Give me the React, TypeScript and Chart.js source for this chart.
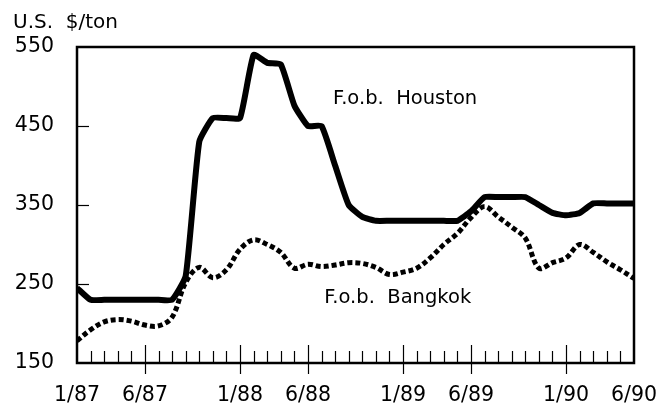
import { useEffect, useRef } from "react";
import { Chart, registerables } from "chart.js";

Chart.register(...registerables);

// Months from 1/87 (index 0) to 6/90 (index 41)
const monthIndex = Array.from({ length: 42 }, (_, i) => i);
const tickLabels: Record<number, string> = {
  0: "1/87",
  5: "6/87",
  12: "1/88",
  17: "6/88",
  24: "1/89",
  29: "6/89",
  36: "1/90",
  41: "6/90",
};
const yTickValues = [150, 250, 350, 450, 550];

const houston = [
  245, 230, 230, 230, 230, 230, 230, 230, 260, 430,
  460, 460, 460, 540, 530, 528, 476, 450, 450, 400,
  350, 335, 330, 330, 330, 330, 330, 330, 330, 342,
  360, 360, 360, 360, 350, 340, 337, 340, 352, 352,
  352, 352,
];
const bangkok = [
  178, 192, 202, 205, 203, 198, 197, 208, 252, 271,
  258, 268, 294, 306, 300, 290, 270, 275, 272, 274,
  277, 276, 271, 262, 265, 270, 283, 300, 314, 334,
  348, 335, 322, 308, 270, 277, 283, 300, 290, 278,
  268, 257,
];

const FONT = "'DejaVu Sans', 'Liberation Sans', Arial, sans-serif";

const framePlugin = {
  id: "frame",
  afterDatasetsDraw(chart: any) {
    const { ctx, chartArea: a, scales } = chart;
    const x = scales.x;
    const y = scales.y;
    ctx.save();
    ctx.strokeStyle = "#000";
    ctx.lineWidth = 2.5;
    ctx.strokeRect(a.left, a.top, a.right - a.left, a.bottom - a.top);
    ctx.lineWidth = 1.2;
    // y ticks inward
    for (const v of [250, 350, 450]) {
      const py = Math.round(y.getPixelForValue(v)) + 0.5;
      ctx.beginPath();
      ctx.moveTo(a.left, py);
      ctx.lineTo(a.left + 12, py);
      ctx.stroke();
    }
    // x ticks
    for (const m of monthIndex) {
      if (m === 0 || m === 41) continue;
      const px = Math.round(x.getPixelForValue(m)) + 0.5;
      ctx.beginPath();
      if (tickLabels[m] !== undefined) {
        ctx.moveTo(px, a.bottom - 18);
        ctx.lineTo(px, a.bottom + 11);
      } else {
        ctx.moveTo(px, a.bottom - 12);
        ctx.lineTo(px, a.bottom);
      }
      ctx.stroke();
    }
    // texts
    ctx.fillStyle = "#000";
    ctx.textBaseline = "alphabetic";
    ctx.textAlign = "left";
    ctx.font = `20px ${FONT}`;
    ctx.fillText("U.S.  $/ton", 13, 28);
    ctx.font = `19.5px ${FONT}`;
    ctx.fillText("F.o.b.  Houston", x.getPixelForValue(18.85), y.getPixelForValue(478));
    ctx.fillText("F.o.b.  Bangkok", x.getPixelForValue(18.2), y.getPixelForValue(226));
    ctx.restore();
  },
};

export default function App() {
  const ref = useRef<HTMLCanvasElement>(null);
  useEffect(() => {
    document.body.style.margin = "0";
    const chart = new Chart(ref.current!, {
      type: "line",
      data: {
        labels: monthIndex,
        datasets: [
          {
            label: "F.o.b. Houston",
            data: houston.map((v, i) => ({ x: monthIndex[i], y: v })),
            borderColor: "#000",
            borderWidth: 6,
            pointRadius: 0,
            tension: 0.15,
            borderJoinStyle: "round",
            borderCapStyle: "butt",
          },
          {
            label: "F.o.b. Bangkok",
            data: bangkok.map((v, i) => ({ x: monthIndex[i], y: v })),
            borderColor: "#000",
            borderWidth: 5,
            borderDash: [5, 3],
            pointRadius: 0,
            tension: 0.35,
            borderCapStyle: "butt",
          },
        ],
      },
      options: {
        responsive: false,
        animation: false,
        layout: { padding: { left: 0, top: 47, right: 29, bottom: 0 } },
        plugins: { legend: { display: false }, tooltip: { enabled: false }, title: { display: false } },
        scales: {
          x: {
            type: "linear",
            min: 0,
            max: 41,
            grid: { display: false, drawTicks: false },
            border: { display: false },
            afterFit: (s: any) => {
              s.height = 46;
              s.paddingLeft = 0;
              s.paddingRight = 0;
            },
            afterBuildTicks: (s: any) => {
              s.ticks = monthIndex.map((v) => ({ value: v }));
            },
            ticks: {
              autoSkip: false,
              maxRotation: 0,
              padding: 20,
              color: "#000",
              font: { family: FONT, size: 20.5 },
              callback: (v: any) => tickLabels[Number(v)] ?? "",
            },
          },
          y: {
            min: 150,
            max: 550,
            grid: { display: false, drawTicks: false },
            border: { display: false },
            afterFit: (s: any) => {
              s.width = 77;
              s.paddingTop = 0;
              s.paddingBottom = 0;
            },
            afterBuildTicks: (s: any) => {
              s.ticks = yTickValues.map((v) => ({ value: v }));
            },
            ticks: {
              padding: 23,
              color: "#000",
              font: { family: FONT, size: 20.5 },
            },
          },
        },
      },
      plugins: [framePlugin],
    });
    return () => chart.destroy();
  }, []);
  return (
    <div style={{ width: 663, height: 409 }}>
      <canvas ref={ref} width={663} height={409} style={{ display: "block" }} />
    </div>
  );
}
